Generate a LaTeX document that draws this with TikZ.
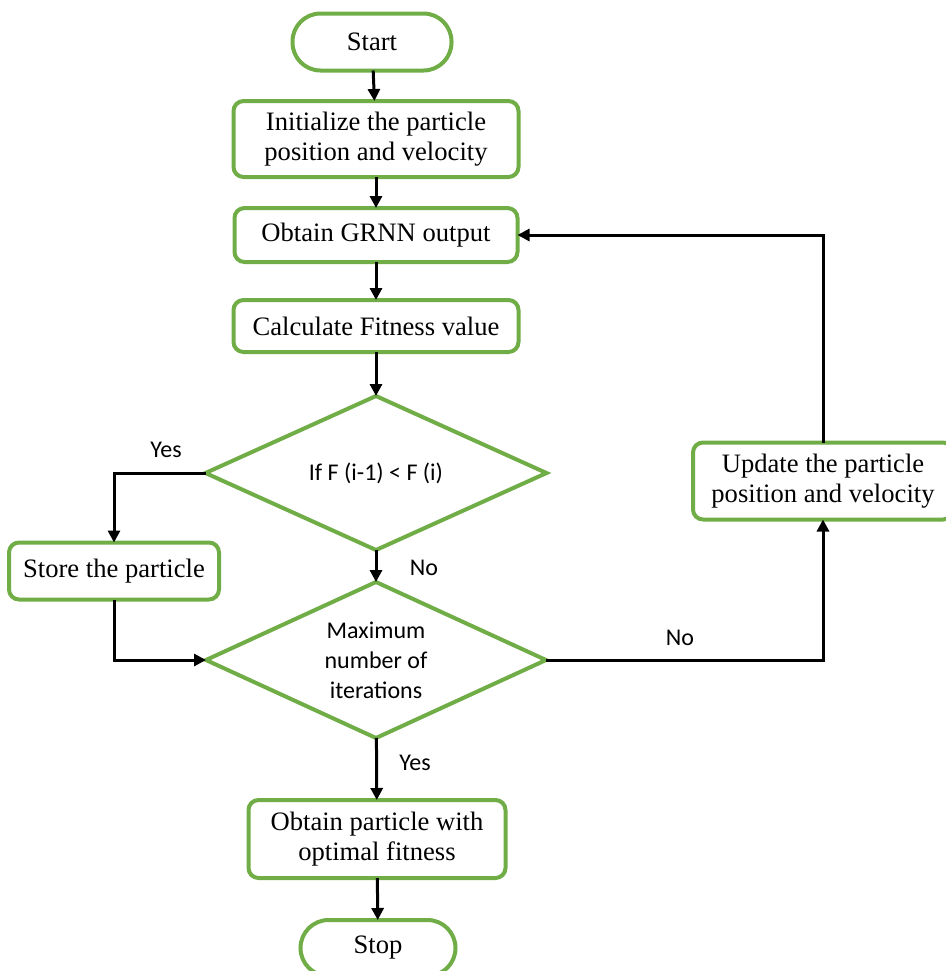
\documentclass[tikz,border=0pt]{standalone}
\usepackage{fontspec}
\setmainfont{Liberation Serif}
\newfontfamily\labelfont{Carlito}
\usetikzlibrary{shapes.geometric,arrows.meta,calc}
\definecolor{boxgreen}{RGB}{112,173,71}
\begin{document}
\begin{tikzpicture}[x=0.5pt,y=-0.5pt,
  every node/.style={inner sep=0pt, outer sep=0pt},
  procbox/.style={draw=boxgreen, line width=2pt, rounded corners=5pt, fill=white,
    align=center, font=\fontsize{13.3}{15}\selectfont},
  termbox/.style={procbox, rounded corners=14pt},
  decision/.style={draw=boxgreen, line width=2pt, diamond, aspect=2.2, fill=white,
    align=center, font=\labelfont\fontsize{12}{15}\selectfont},
  flow/.style={draw=black, line width=1.5pt, -{Triangle[length=6pt,width=6pt]}},
  branch/.style={font=\labelfont\fontsize{12}{14}\selectfont}
]
\useasboundingbox (0,0) rectangle (946,971);

% process steps
\node[termbox, minimum width=79.5pt, minimum height=28.5pt] (start) at (372,42) {Start};
\node[procbox, minimum width=142.5pt, minimum height=38pt] (init) at (376,139)
  {Initialize the particle\\position and velocity};
\node[procbox, minimum width=141.5pt, minimum height=27pt] (grnn) at (376,235) {Obtain GRNN output};
\node[procbox, minimum width=142.5pt, minimum height=26pt] (calc) at (376,326) {Calculate Fitness value};
\node[decision, minimum width=170.5pt, minimum height=77pt] (cmp) at (376,473) {If F (i-1) < F (i)};
\node[procbox, minimum width=105pt, minimum height=28.5pt] (store) at (114,571) {Store the particle};
\node[decision, minimum width=170pt, minimum height=78pt] (maxit) at (376,660)
  {Maximum\\number of\\iterations};
\node[procbox, minimum width=130pt, minimum height=38.5pt] (update) at (823,481)
  {Update the particle\\position and velocity};
\node[procbox, minimum width=128.5pt, minimum height=39pt] (best) at (377,839)
  {Obtain particle with\\optimal fitness};
\node[termbox, minimum width=77.5pt, minimum height=28pt] (stop) at (378,948) {Stop};

% main flow
\draw[flow] (start) -- (init);
\draw[flow] (init) -- (grnn);
\draw[flow] (grnn) -- (calc);
\draw[flow] (calc) -- (cmp);
\draw[flow] (cmp) -- (maxit);
\draw[flow] (maxit) -- (best);
\draw[flow] (best) -- (stop);

% branches
\draw[flow] (cmp.west) -| (store.north);
\draw[flow] (store.south) |- (maxit.west);
\draw[flow] (maxit.east) -| (update.south);
\draw[flow] (update.north) |- (grnn.east);

% branch labels
\node[branch] (yes1) at (166,450) {Yes};
\node[branch] (no1) at (424,568) {No};
\node[branch] (no2) at (680,638) {No};
\node[branch] (yes2) at (415,763) {Yes};
\end{tikzpicture}
\end{document}
